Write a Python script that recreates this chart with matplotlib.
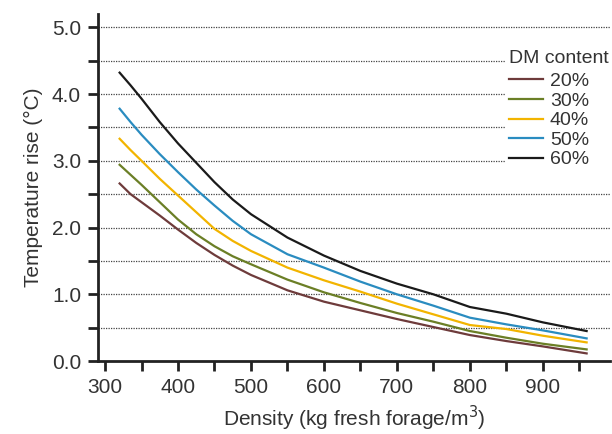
import numpy as np
import matplotlib.pyplot as plt

plt.rcParams['font.family'] = ['Liberation Sans', 'DejaVu Sans']

# values
density = [320, 335, 350, 375, 400, 425, 450, 475, 500, 550, 600, 650, 700, 750, 800, 850, 900, 960]
dm_labels = ["20%", "30%", "40%", "50%", "60%"]
rise_20 = [2.66, 2.50, 2.38, 2.18, 1.97, 1.77, 1.59, 1.43, 1.29, 1.06, 0.89, 0.76, 0.63, 0.51, 0.39, 0.30, 0.22, 0.115]
rise_30 = [2.94, 2.79, 2.64, 2.38, 2.12, 1.90, 1.72, 1.57, 1.45, 1.22, 1.03, 0.87, 0.72, 0.59, 0.45, 0.35, 0.26, 0.175]
rise_40 = [3.33, 3.16, 3.00, 2.73, 2.48, 2.23, 1.98, 1.80, 1.65, 1.40, 1.21, 1.04, 0.86, 0.70, 0.54, 0.48, 0.38, 0.28]
rise_50 = [3.78, 3.58, 3.39, 3.10, 2.83, 2.57, 2.33, 2.10, 1.90, 1.60, 1.40, 1.19, 1.00, 0.83, 0.65, 0.55, 0.46, 0.34]
rise_60 = [4.32, 4.13, 3.93, 3.58, 3.26, 2.97, 2.68, 2.42, 2.20, 1.85, 1.58, 1.35, 1.16, 1.00, 0.81, 0.71, 0.58, 0.45]
colors = ["#6e3b3b", "#6b7f26", "#f2b400", "#2a8cc0", "#1a1a1a"]

txt = "#333333"
fs = 15

fig = plt.figure(figsize=(6.12, 4.34), dpi=100)
ax = fig.add_axes([0.1597, 0.168, 0.837, 0.80])

for y, c, lab in zip([rise_20, rise_30, rise_40, rise_50, rise_60], colors, dm_labels):
    ax.plot(density, y, color=c, lw=1.6, label=lab, zorder=3)

ax.set_xlim(290, 992)
ax.set_ylim(0, 5.2)
ax.set_xticks(np.arange(300, 951, 50))
ax.set_xticklabels([str(v) if v % 100 == 0 else "" for v in range(300, 951, 50)])
ax.set_yticks(np.arange(0, 5.01, 0.5))
ax.set_yticklabels(["%.1f" % v if v % 1 == 0 else "" for v in np.arange(0, 5.01, 0.5)])

for v in np.arange(0.5, 5.01, 0.5):
    ax.axhline(v, color="#444444", lw=0.9, ls=(0, (1, 1)), zorder=1)

for s in ["top", "right"]:
    ax.spines[s].set_visible(False)
for s in ["left", "bottom"]:
    ax.spines[s].set_linewidth(2)
    ax.spines[s].set_color("#222222")
ax.tick_params(direction="out", length=7, width=2, color="#222222",
               labelsize=fs, labelcolor=txt, pad=5)

ax.set_xlabel("Density (kg fresh forage/m$^3$)", fontsize=fs, color=txt, labelpad=5)
ax.set_ylabel("Temperature rise (°C)", fontsize=fs, color=txt, labelpad=6)

leg = ax.legend(title="DM content", loc="upper right", bbox_to_anchor=(1.024, 0.935),
                fontsize=14, title_fontsize=14, frameon=True, facecolor="white",
                edgecolor="none", framealpha=1, handlelength=1.75, handletextpad=0.35,
                labelspacing=0.1, borderpad=0.2, alignment="left")
leg._legend_box.sep = 4
for t in leg.get_texts():
    t.set_color(txt)
leg.get_title().set_color(txt)
leg.set_zorder(5)

fig.savefig("out.png", dpi=100)
